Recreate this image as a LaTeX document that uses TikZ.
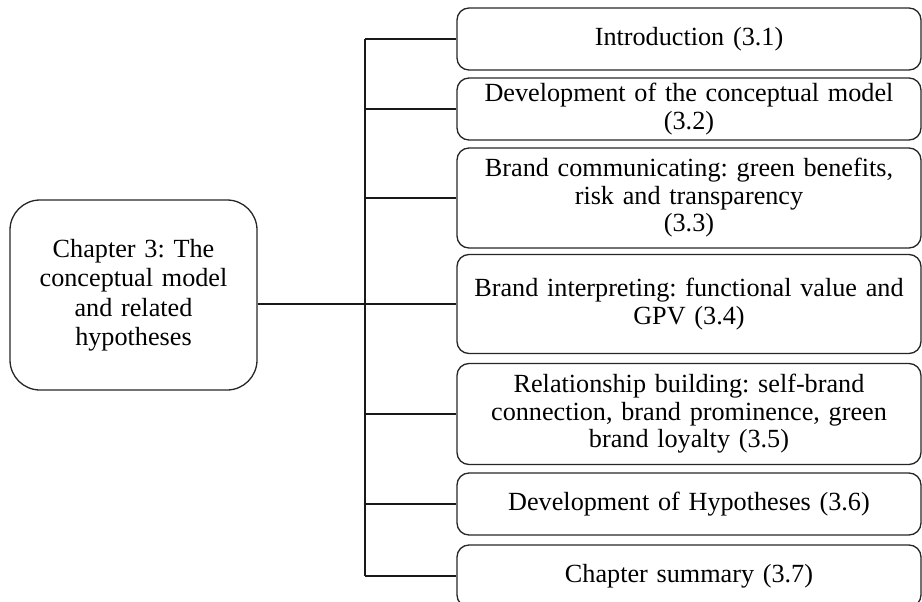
\documentclass[tikz,border=0pt]{standalone}
\usepackage{fontspec}
\setmainfont{Liberation Serif}
\frenchspacing
\begin{document}
\begin{tikzpicture}[x=1pt,y=-1pt,
  sect/.style={draw=black!85, line width=1.3pt, rounded corners=12pt,
    minimum width=464pt, text width=450pt, align=center, inner sep=0pt,
    font=\fontsize{26.2}{27.5}\selectfont},
  chap/.style={draw=black!85, line width=1.3pt, rounded corners=30pt,
    minimum width=247pt, minimum height=190pt, text width=235pt,
    align=center, inner sep=0pt, font=\fontsize{26.2}{29.5}\selectfont},
  link/.style={line width=1.8pt, draw=black!90}]
\useasboundingbox (0,0) rectangle (922,602);

% chapter box
\node[chap] (ch) at (133.5,295) {Chapter 3: The\\conceptual model\\and related\\hypotheses};

% section boxes
\node[sect, minimum height=62pt]  (b1) at (689,39)  {Introduction (3.1)};
\node[sect, minimum height=62pt]  (b2) at (689,109) {Development of the conceptual model\\(3.2)};
\node[sect, minimum height=100pt] (b3) at (689,198) {Brand communicating: green benefits,\\risk and transparency\\(3.3)};
\node[sect, minimum height=99pt]  (b4) at (689,304) {Brand interpreting: functional value and\\GPV (3.4)};
\node[sect, minimum height=101pt] (b5) at (689,414) {Relationship building: self-brand\\connection, brand prominence, green\\brand loyalty (3.5)};
\node[sect, minimum height=62pt]  (b6) at (689,504) {Development of Hypotheses (3.6)};
\node[sect, minimum height=62pt]  (b7) at (689,576) {Chapter summary (3.7)};

% trunk of the bracket
\coordinate (tr) at (365,0);
\draw[link] (b1.west -| tr) -- (b7.west -| tr);
\draw[link] (b4.west -| ch.east) -- (b4.west -| tr);
\foreach \b in {b1,b2,b3,b4,b5,b6,b7}
  \draw[link] (\b.west -| tr) -- (\b.west);
\end{tikzpicture}
\end{document}
